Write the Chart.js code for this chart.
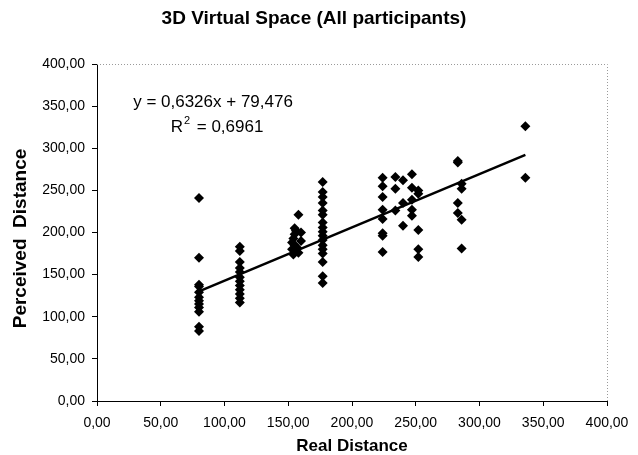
<!DOCTYPE html>
<html>
<head>
<meta charset="utf-8">
<script src="https://cdn.jsdelivr.net/npm/chart.js@4/dist/chart.umd.min.js"></script>
<style>
  html, body { margin: 0; padding: 0; background: #fff; }
  #wrap { width: 638px; height: 455px; }
</style>
</head>
<body>
<div id="wrap"><canvas id="chart" width="638" height="455"></canvas></div>
<script>
// Real vs. perceived distance, one entry per participant trial
const realDistance = [
  80, 80, 80, 80, 80, 80, 80, 80, 80, 80, 80, 80,
  112, 112, 112, 112, 112, 112, 112, 112, 112, 112, 112, 112,
  158, 155, 156, 155, 154, 153, 155, 157, 153, 155, 158, 154, 160, 160,
  177, 177, 177, 177, 177, 177, 177, 177, 177, 177, 177, 177, 177, 177, 177, 177, 177,
  224, 224, 224, 224, 224, 224, 224, 224,
  234, 234, 234,
  240, 240, 240,
  247, 247, 247, 247, 247,
  252, 252, 252, 252, 252,
  283, 283, 283, 283,
  286, 286, 286, 286,
  336, 336
];
const perceivedDistance = [
  241, 170, 138, 136, 129, 123, 119, 115, 111, 106, 88, 83,
  183, 178, 165, 158, 153, 147, 142, 137, 132, 127, 122, 117,
  221, 205, 202, 198, 193, 188, 185, 182, 180, 178, 176, 174, 200, 190,
  260, 248, 242, 235, 226, 221, 212, 206, 201, 196, 191, 185, 180, 175, 165, 148, 140,
  265, 255, 242, 227, 216, 199, 196, 177,
  266, 252, 226,
  262, 235, 208,
  269, 253, 239, 227, 220,
  250, 246, 203, 180, 171,
  285, 283, 235, 223,
  258, 252, 215, 181,
  326, 265
];

// Least-squares fit shown on the chart
const trendSlope = 0.6326;
const trendIntercept = 79.476;
const rSquared = 0.6961;

const xTicks = [0, 50, 100, 150, 200, 250, 300, 350, 400];
const yTicks = [0, 50, 100, 150, 200, 250, 300, 350, 400];

const chartTitle = '3D Virtual Space (All participants)';
const xTitle = 'Real Distance';
const yTitle = 'Perceived  Distance';

const FONT = '"Liberation Sans", Arial, sans-serif';
const fmt = v => v.toFixed(2).replace('.', ',');
const fmt4 = v => v.toFixed(4).replace('.', ',');
const fmt3 = v => v.toFixed(3).replace('.', ',');

const points = realDistance.map((x, i) => ({ x: x, y: perceivedDistance[i] }));
const xMin = Math.min(...realDistance);
const xMax = Math.max(...realDistance);
const trend = [xMin, xMax].map(x => ({ x: x, y: trendSlope * x + trendIntercept }));

// Dotted top/right frame of the plot area
const frame = {
  id: 'frame',
  afterDraw(chart) {
    const { ctx, chartArea: a } = chart;
    ctx.save();
    ctx.strokeStyle = '#9a9a9a';
    ctx.lineWidth = 1;
    ctx.setLineDash([1, 2]);
    ctx.beginPath();
    ctx.moveTo(a.left, a.top + 0.5);
    ctx.lineTo(a.right + 0.5, a.top + 0.5);
    ctx.lineTo(a.right + 0.5, a.bottom);
    ctx.stroke();
    ctx.restore();
  }
};

// Chart title and vertical axis title
const titles = {
  id: 'titles',
  afterDraw(chart) {
    const { ctx, chartArea: a } = chart;
    ctx.save();
    ctx.fillStyle = '#000';
    ctx.textAlign = 'center';
    ctx.textBaseline = 'middle';
    ctx.font = 'bold 19px ' + FONT;
    ctx.fillText(chartTitle, chart.width / 2 - 5, 19);
    ctx.translate(21, (a.top + a.bottom) / 2 + 6);
    ctx.rotate(-Math.PI / 2);
    ctx.font = 'bold 19px ' + FONT;
    ctx.fillText(yTitle, 0, 0);
    ctx.restore();
  }
};

// Regression equation and R² label (superscript drawn smaller and raised)
const equation = {
  id: 'equation',
  afterDatasetsDraw(chart) {
    const { ctx, scales: { x, y } } = chart;
    const cx = x.getPixelForValue(91);
    const big = '17px ' + FONT;
    const small = '11px ' + FONT;
    ctx.save();
    ctx.fillStyle = '#000';
    ctx.textBaseline = 'middle';
    ctx.font = big;
    ctx.textAlign = 'center';
    ctx.fillText('y = ' + fmt4(trendSlope) + 'x + ' + fmt3(trendIntercept), cx, y.getPixelForValue(354));

    const y2 = y.getPixelForValue(325);
    const partR = 'R';
    const partRest = ' = ' + fmt4(rSquared);
    ctx.font = big;
    const wR = ctx.measureText(partR).width;
    const wRest = ctx.measureText(partRest).width;
    ctx.font = small;
    const w2 = ctx.measureText('2').width;
    const total = wR + w2 + wRest + 3;
    let left = cx + 4 - total / 2;
    ctx.textAlign = 'left';
    ctx.font = big;
    ctx.fillText(partR, left, y2);
    ctx.font = small;
    ctx.fillText('2', left + wR + 1, y2 - 6);
    ctx.font = big;
    ctx.fillText(partRest, left + wR + w2 + 3, y2);
    ctx.restore();
  }
};

new Chart(document.getElementById('chart'), {
  type: 'scatter',
  data: {
    datasets: [
      {
        data: points,
        pointStyle: 'rectRot',
        pointRadius: 5,
        pointHoverRadius: 5,
        backgroundColor: '#000',
        borderColor: '#000',
        borderWidth: 0
      },
      {
        type: 'line',
        data: trend,
        borderColor: '#000',
        borderWidth: 2.5,
        pointRadius: 0,
        fill: false
      }
    ]
  },
  options: {
    responsive: false,
    animation: false,
    devicePixelRatio: 1,
    layout: { padding: { left: 0, right: 31, top: 64, bottom: 0 } },
    plugins: {
      legend: { display: false },
      tooltip: { enabled: false },
      title: { display: false }
    },
    scales: {
      x: {
        type: 'linear',
        min: 0,
        max: 400,
        afterBuildTicks: s => { s.ticks = xTicks.map(v => ({ value: v })); },
        afterFit: s => { s.height = 54; },
        ticks: {
          callback: v => fmt(v),
          color: '#000',
          font: { family: FONT, size: 14 },
          padding: 9,
          maxRotation: 0
        },
        grid: { drawOnChartArea: false, drawTicks: true, tickLength: 5, color: '#000' },
        border: { color: '#000', width: 1 },
        title: {
          display: true,
          text: xTitle,
          color: '#000',
          font: { family: FONT, size: 17, weight: 'bold', lineHeight: 1 },
          padding: { top: 0, bottom: 0.5 }
        }
      },
      y: {
        type: 'linear',
        min: 0,
        max: 400,
        afterBuildTicks: s => { s.ticks = yTicks.map(v => ({ value: v })); },
        afterFit: s => { s.width = 97; },
        ticks: {
          callback: v => fmt(v),
          color: '#000',
          font: { family: FONT, size: 14 },
          padding: 7
        },
        grid: { drawOnChartArea: false, drawTicks: true, tickLength: 5, color: '#000' },
        border: { color: '#000', width: 1 },
        title: { display: false }
      }
    }
  },
  plugins: [frame, titles, equation]
});
</script>
</body>
</html>
